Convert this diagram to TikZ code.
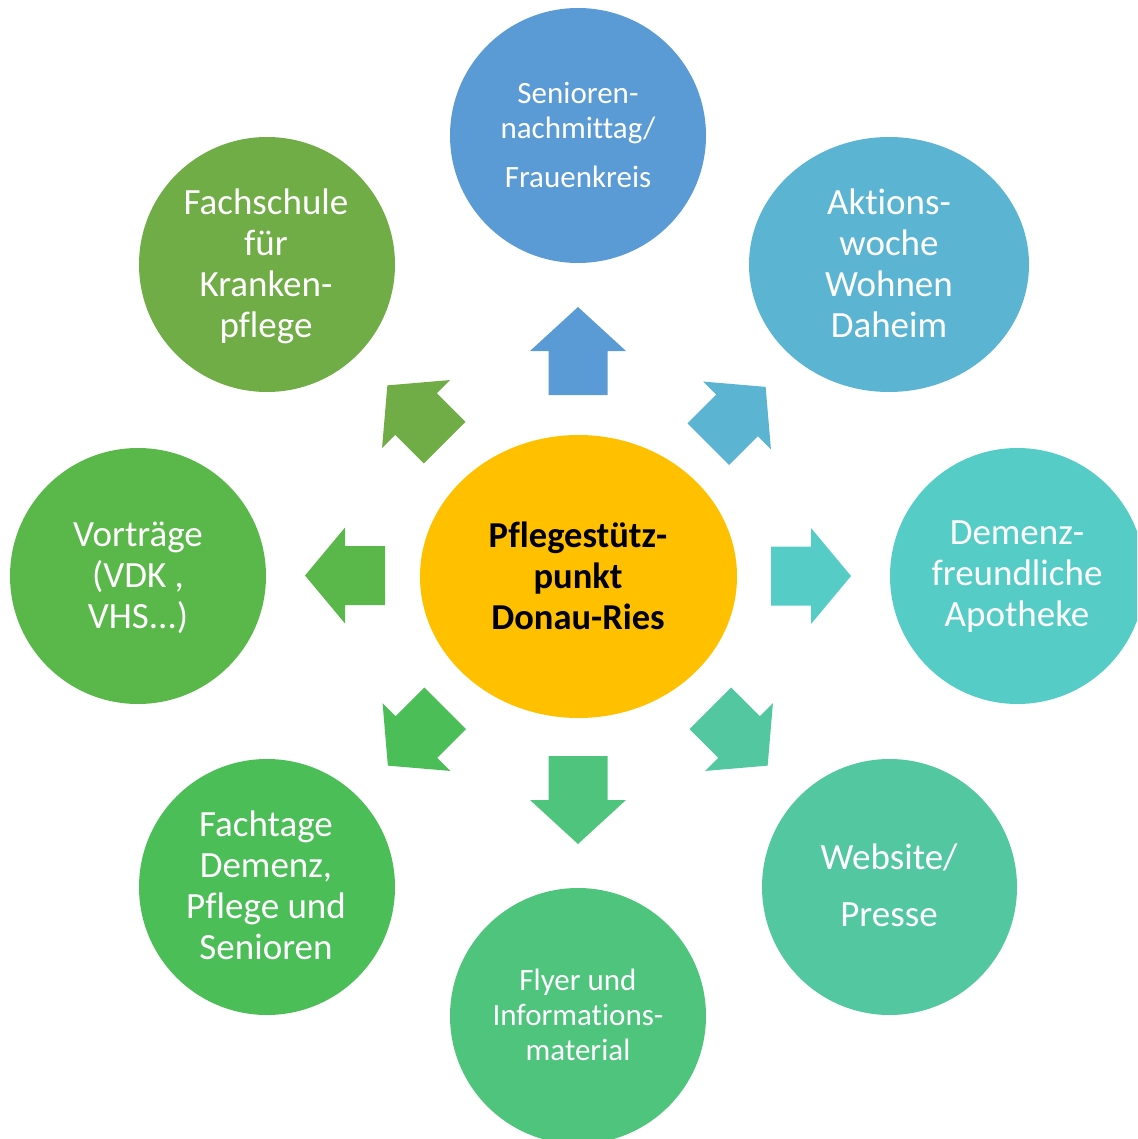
\documentclass[tikz,border=0pt]{standalone}
\usepackage{fontspec}
\setmainfont{Carlito}[Ligatures=NoCommon]
\usetikzlibrary{shapes.geometric}
\definecolor{cTop}{RGB}{91,155,213}
\definecolor{cTR}{RGB}{91,181,210}
\definecolor{cR}{RGB}{86,204,199}
\definecolor{cBR}{RGB}{82,199,160}
\definecolor{cB}{RGB}{78,196,124}
\definecolor{cBL}{RGB}{76,190,88}
\definecolor{cL}{RGB}{90,184,74}
\definecolor{cTL}{RGB}{112,173,71}
\definecolor{cCenter}{RGB}{255,192,0}
\tikzset{
  bubble/.style={ellipse, inner sep=0pt, outer sep=0pt, draw=none},
  whitetext/.style={text=white, align=center, inner sep=0pt, font=\fontsize{37}{41}\selectfont},
}
\newcommand{\blockarrow}[5]{%
  \fill[#5, shift={(#1,#2)}, rotate=#3] (-#4,-29.5) -- (0,-29.5) -- (0,-48) -- (#4,0) -- (0,48) -- (0,29.5) -- (-#4,29.5) -- cycle;}
\begin{document}
\begin{tikzpicture}[x=1pt,y=-1pt]
\clip (0,0) rectangle (1137,1139);
\useasboundingbox (0,0) rectangle (1137,1139);
% bubbles
\node[bubble, fill=cTop, minimum width=256pt, minimum height=255pt] (top) at (578,135.5) {};
\node[bubble, fill=cTR, minimum width=280pt, minimum height=255pt] (tr) at (889,264.5) {};
\node[bubble, fill=cR, minimum width=255pt, minimum height=256pt] (right) at (1017.5,576) {};
\node[bubble, fill=cBR, minimum width=255pt, minimum height=256pt] (br) at (889.5,887) {};
\node[bubble, fill=cB, minimum width=256pt, minimum height=256pt] (bottom) at (578,1016) {};
\node[bubble, fill=cBL, minimum width=256pt, minimum height=256pt] (bl) at (267,887) {};
\node[bubble, fill=cL, minimum width=256pt, minimum height=256pt] (left) at (138,576) {};
\node[bubble, fill=cTL, minimum width=256pt, minimum height=255pt] (tl) at (267,264.5) {};
\node[bubble, fill=cCenter, minimum width=317pt, minimum height=283pt] (center) at (578.5,576.5) {};
% arrows
\blockarrow{578}{351}{90}{44}{cTop}
\blockarrow{737}{415.5}{45}{40.5}{cTR}
\blockarrow{811}{576}{0}{40}{cR}
\blockarrow{739}{737}{315}{40.5}{cBR}
\blockarrow{578}{800}{270}{44}{cB}
\blockarrow{416.5}{737}{225}{40.5}{cBL}
\blockarrow{345}{575.5}{180}{40}{cL}
\blockarrow{416}{414}{135}{40.5}{cTL}
% texts
\node[whitetext, font=\fontsize{31}{35}\selectfont] (toptext) at (578,134.5) {Senioren-\\nachmittag/\\[14pt]Frauenkreis};
\node[whitetext] (trtext) at (889,263.5) {Aktions-\\woche\\Wohnen\\Daheim};
\node[whitetext] (righttext) at (1017,577) {Demenz-\\freundliche\\Apotheke};
\node[whitetext] (brtext) at (889,885) {Website/\\[16pt]Presse};
\node[whitetext, font=\fontsize{31}{35}\selectfont] (bottomtext) at (578,1014.5) {Flyer und\\Informations-\\material};
\node[whitetext] (bltext) at (266,885) {Fachtage\\Demenz,\\Pflege und\\Senioren};
\node[whitetext] (lefttext) at (138,577.5) {Vorträge\\(VDK ,\\VHS...)};
\node[whitetext] (tltext) at (266,266.5) {Fachschule\\für\\Kranken-\\pflege};
\node[align=center, inner sep=0pt, text=black, font=\fontsize{36.5}{41}\selectfont\bfseries] (centertext) at (578,575.5) {Pflegestütz-\\punkt\\Donau-Ries};
\end{tikzpicture}
\end{document}
